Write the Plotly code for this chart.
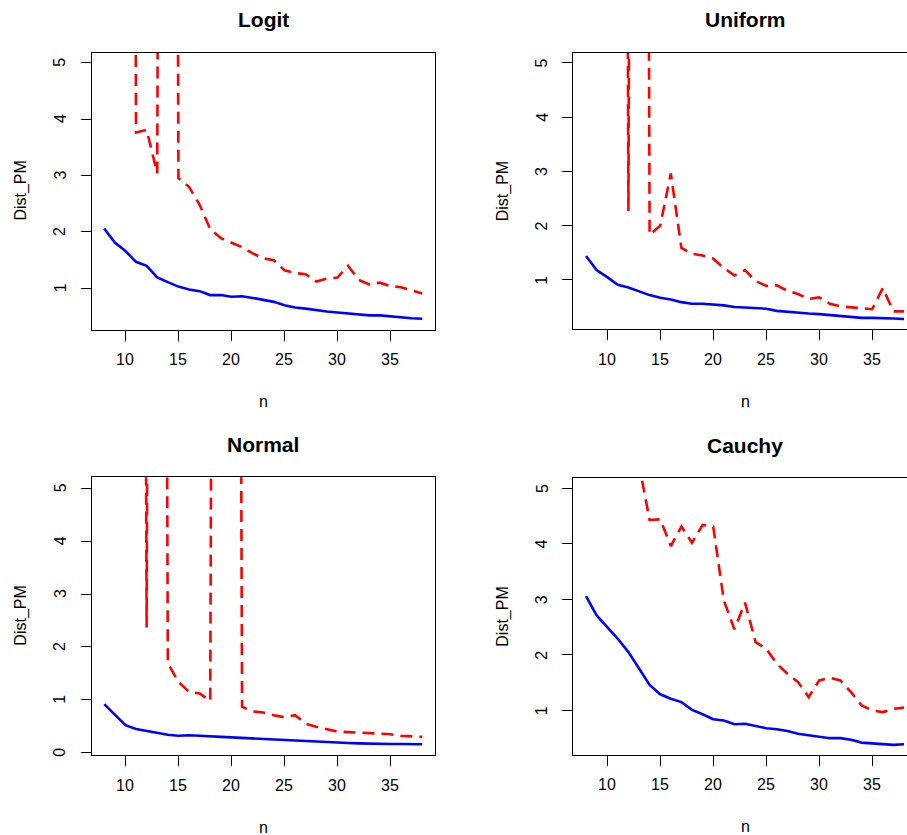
import plotly.graph_objects as go

W, H = 907, 835

n = list(range(8, 39))

# Logit
logit_blue = [2.06, 1.81, 1.66, 1.47, 1.40, 1.195, 1.11, 1.03, 0.98, 0.95, 0.88, 0.88, 0.85, 0.86, 0.83,
              0.79, 0.76, 0.70, 0.66, 0.64, 0.61, 0.59, 0.57, 0.55, 0.54, 0.52, 0.52, 0.50, 0.49, 0.47, 0.46]
logit_red = [60.0, 60.0, 60.0, 3.76, 3.81, 3.04, 60.0, 2.95, 2.80, 2.48, 2.05, 1.89, 1.81, 1.73, 1.62,
             1.53, 1.50, 1.32, 1.27, 1.25, 1.12, 1.17, 1.19, 1.40, 1.15, 1.07, 1.10, 1.04, 1.02, 0.97, 0.91]

# Uniform
unif_blue = [1.44, 1.18, 1.05, 0.91, 0.86, 0.79, 0.72, 0.67, 0.64, 0.59, 0.56, 0.56, 0.55, 0.53, 0.50,
             0.49, 0.48, 0.47, 0.43, 0.41, 0.40, 0.38, 0.37, 0.35, 0.34, 0.32, 0.30, 0.30, 0.30, 0.29, 0.28]
unif_red = [60.0, 60.0, 60.0, 60.0, 2.27, 60.0, 1.83, 2.00, 2.96, 1.59, 1.48, 1.45, 1.39, 1.22, 1.08,
            1.18, 0.98, 0.89, 0.90, 0.80, 0.74, 0.65, 0.68, 0.56, 0.51, 0.50, 0.48, 0.46, 0.85, 0.42, 0.42]

# Normal
norm_blue = [0.92, 0.71, 0.52, 0.45, 0.41, 0.38, 0.34, 0.32, 0.33, 0.32, 0.315, 0.30, 0.29, 0.28, 0.265,
             0.25, 0.245, 0.235, 0.22, 0.215, 0.20, 0.195, 0.19, 0.183, 0.177, 0.17, 0.17, 0.165, 0.165, 0.16, 0.16]
norm_red = [60.0, 60.0, 60.0, 60.0, 2.37, 60.0, 1.69, 1.34, 1.15, 1.12, 0.98, 60.0, 60.0, 0.87, 0.78,
            0.76, 0.71, 0.67, 0.71, 0.55, 0.49, 0.44, 0.40, 0.39, 0.38, 0.37, 0.36, 0.35, 0.32, 0.31, 0.30]

# Cauchy
cauchy_blue = [3.06, 2.71, 2.50, 2.29, 2.05, 1.75, 1.46, 1.29, 1.21, 1.15, 1.01, 0.93, 0.84, 0.82, 0.75,
               0.76, 0.72, 0.68, 0.66, 0.63, 0.58, 0.55, 0.52, 0.50, 0.50, 0.47, 0.42, 0.41, 0.39, 0.38, 0.39]
cauchy_red = [8.0, 7.0, 6.5, 6.0, 5.8, 5.43, 4.43, 4.44, 3.96, 4.31, 4.02, 4.34, 4.31, 2.98, 2.46,
              2.94, 2.23, 2.11, 1.84, 1.66, 1.51, 1.24, 1.54, 1.59, 1.54, 1.33, 1.09, 1.00, 0.97, 1.03, 1.05]

titles = ["Logit", "Uniform", "Normal", "Cauchy"]
series = [(logit_blue, logit_red), (unif_blue, unif_red), (norm_blue, norm_red), (cauchy_blue, cauchy_red)]
x_ticks = [10, 15, 20, 25, 30, 35]
y_ticks = [0, 1, 2, 3, 4, 5]

# layout geometry in pixels (left, right, top, bottom of each box)
boxes = [
    (91.5, 435.0, 52.7, 329.5),
    (573.3, 907.0, 52.7, 329.3),
    (91.5, 435.0, 477.3, 755.0),
    (573.3, 907.0, 478.3, 754.5),
]
xranges = [[6.8, 39.2], [6.8, 38.28], [6.8, 39.2], [6.8, 38.28]]
yranges = [[0.27, 5.177], [0.09, 5.185], [-0.043, 5.208], [0.206, 5.18]]
box_centers_x = [263.3, 745.0, 263.3, 745.0]

FONT = "Liberation Sans, Arial, Helvetica, sans-serif"
fig = go.Figure()
annotations = []
for i in range(4):
    xa = "x" if i == 0 else f"x{i+1}"
    ya = "y" if i == 0 else f"y{i+1}"
    blue, red = series[i]
    fig.add_trace(go.Scatter(x=n, y=blue, mode="lines", xaxis=xa, yaxis=ya,
                             line=dict(color="#0000FF", width=2.6), showlegend=False, hoverinfo="skip"))
    fig.add_trace(go.Scatter(x=n, y=red, mode="lines", xaxis=xa, yaxis=ya,
                             line=dict(color="#FF0000", width=2.6, dash="12px,7px"), showlegend=False,
                             hoverinfo="skip"))
    l, r, t, b = boxes[i]
    right_panel = i in (1, 3)
    xkey = "xaxis" if i == 0 else f"xaxis{i+1}"
    ykey = "yaxis" if i == 0 else f"yaxis{i+1}"
    fig.update_layout(**{
        xkey: dict(domain=[l / W, r / W], range=xranges[i], anchor=ya,
                   tickvals=x_ticks, ticks="outside", ticklen=10, tickcolor="black", tickwidth=1,
                   showline=True, linecolor="black", linewidth=1, mirror=True,
                   showgrid=False, zeroline=False, showticklabels=False),
        ykey: dict(domain=[1 - b / H, 1 - t / H], range=yranges[i], anchor=xa,
                   tickvals=y_ticks, ticks="outside", ticklen=10, tickcolor="black", tickwidth=1,
                   showline=True, linecolor="black", linewidth=1, mirror=(not right_panel),
                   showgrid=False, zeroline=False, showticklabels=False),
    })
    # tick labels (placed at tick values through the axes)
    for v in x_ticks:
        annotations.append(dict(text=str(v), x=v, xref=xa, y=1 - (b + 30) / H, yref="paper",
                                xanchor="center", yanchor="middle", showarrow=False,
                                font=dict(family=FONT, size=16, color="black")))
    for v in y_ticks:
        if yranges[i][0] <= v <= yranges[i][1]:
            annotations.append(dict(text=str(v), x=(l - 31.5) / W, xref="paper", y=v, yref=ya,
                                    xanchor="center", yanchor="middle", showarrow=False, textangle=-90,
                                    font=dict(family=FONT, size=16, color="black")))
    cx = box_centers_x[i]
    # title
    annotations.append(dict(text=f"<b>{titles[i]}</b>", x=cx / W, y=1 - (t - 33) / H, xref="paper", yref="paper",
                            xanchor="center", yanchor="middle", showarrow=False,
                            font=dict(family=FONT, size=21, color="black")))
    # x label
    annotations.append(dict(text="n", x=cx / W, y=1 - (b + 72) / H, xref="paper", yref="paper",
                            xanchor="center", yanchor="middle", showarrow=False,
                            font=dict(family=FONT, size=16, color="black")))
    # y label
    annotations.append(dict(text="Dist_PM", x=(l - 70) / W, y=1 - ((t + b) / 2) / H, xref="paper", yref="paper",
                            xanchor="center", yanchor="middle", showarrow=False, textangle=-90,
                            font=dict(family=FONT, size=16, color="black")))

fig.update_layout(width=W, height=H, margin=dict(l=0, r=0, t=0, b=0),
                  paper_bgcolor="white", plot_bgcolor="white", annotations=annotations)
fig.write_html("out.html")
